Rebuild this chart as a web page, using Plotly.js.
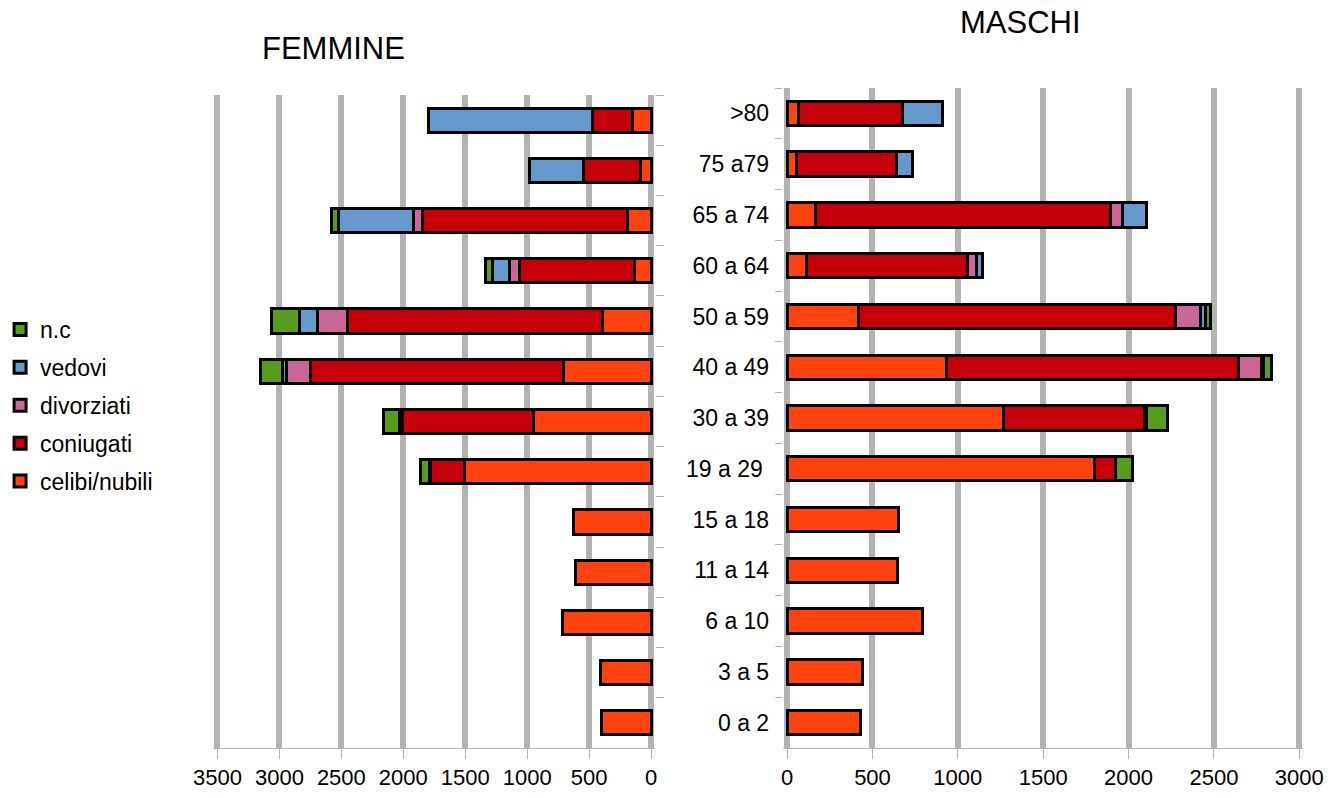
<!DOCTYPE html>
<html>
<head>
<meta charset="utf-8">
<script src="https://cdn.plot.ly/plotly-3.0.1.min.js"></script>
<style>html,body{margin:0;padding:0;background:#fff;}#chart{width:1334px;height:798px;}</style>
</head>
<body>
<div id="chart"></div>
<script>
// Categories, top to bottom
const categories = ['>80','75 a79','65 a 74','60 a 64','50 a 59','40 a 49','30 a 39','19 a 29\u00a0','15 a 18','11 a 14','6 a 10','3 a 5','0 a 2'];

// FEMMINE
const femCelibi     = [150, 90, 192, 131, 390, 704, 949, 1509, 630, 610, 717, 405, 397];
const femConiugati  = [320, 453, 1653, 933, 2061, 2048, 1061, 275, 0, 0, 0, 0, 0];
const femDivorziati = [0, 0, 72, 80, 245, 192, 15, 8, 0, 0, 0, 0, 0];
const femVedovi     = [1328, 440, 605, 133, 141, 27, 5, 0, 0, 0, 0, 0, 0];
const femNC         = [0, 0, 54, 58, 227, 181, 128, 70, 0, 0, 0, 0, 0];

// MASCHI
const masCelibi     = [64, 54, 165, 116, 419, 936, 1266, 1802, 655, 645, 791, 442, 428];
const masConiugati  = [610, 587, 1730, 940, 1855, 1709, 827, 122, 0, 0, 0, 0, 0];
const masDivorziati = [0, 0, 68, 54, 149, 132, 10, 0, 0, 0, 0, 0, 0];
const masVedovi     = [238, 95, 140, 35, 25, 14, 5, 0, 0, 0, 0, 0, 0];
const masNC         = [0, 0, 0, 0, 33, 45, 122, 101, 0, 0, 0, 0, 0];

const seriesNames = ['celibi/nubili', 'coniugati', 'divorziati', 'vedovi', 'n.c'];
const seriesColors = ['#ff420e', '#c5000b', '#cc6699', '#6699cc', '#579d1c'];
const femSeries = [femCelibi, femConiugati, femDivorziati, femVedovi, femNC];
const masSeries = [masCelibi, masConiugati, masDivorziati, masVedovi, masNC];

const FONT = 'Liberation Sans, Arial, sans-serif';
const GRID = '#b3b3b3';
const W = 1334, H = 798;

const traces = [];
seriesNames.forEach((name, i) => {
  traces.push({
    type: 'bar', orientation: 'h', name: name, legendgroup: 'g' + i,
    legendrank: seriesNames.length - i,
    y: categories, x: femSeries[i], xaxis: 'x', yaxis: 'y',
    marker: {color: seriesColors[i], line: {color: '#000', width: 3}},
    hoverinfo: 'x+name'
  });
  traces.push({
    type: 'bar', orientation: 'h', name: name, legendgroup: 'g' + i, showlegend: false,
    legendrank: seriesNames.length - i,
    y: categories, x: masSeries[i], xaxis: 'x2', yaxis: 'y2',
    marker: {color: seriesColors[i], line: {color: '#000', width: 3}},
    hoverinfo: 'x+name'
  });
});

const xCommon = {
  showgrid: true, gridcolor: GRID, gridwidth: 6, zeroline: false,
  showline: true, linecolor: GRID, linewidth: 1,
  ticks: 'outside', ticklen: 10, tickcolor: GRID, tickwidth: 1,
  tickfont: {family: FONT, size: 22, color: '#000'},
  tickmode: 'array', automargin: false, fixedrange: true
};

// small range padding so the edge gridlines (3500 / 0 / 3000) are drawn
const leftPad = 32, rightPad = 23.3;

const layout = {
  width: W, height: H,
  margin: {l: 0, r: 0, t: 0, b: 0},
  paper_bgcolor: '#fff', plot_bgcolor: '#fff',
  barmode: 'stack', bargap: 0.52,
  font: {family: FONT, color: '#000'},
  xaxis: Object.assign({}, xCommon, {
    domain: [205 / W, 650 / W], range: [3500 + leftPad, -leftPad], autorange: false,
    tickvals: [0, 500, 1000, 1500, 2000, 2500, 3000, 3500], anchor: 'y'
  }),
  yaxis: {
    domain: [50 / H, 703 / H], type: 'category', autorange: 'reversed',
    side: 'right', anchor: 'x', showgrid: false, zeroline: false,
    ticks: 'outside', tickson: 'boundaries', ticklen: 8, tickcolor: GRID,
    showticklabels: false, automargin: false, fixedrange: true
  },
  xaxis2: Object.assign({}, xCommon, {
    domain: [779 / W, 1303 / W], range: [-rightPad, 3000 + rightPad], autorange: false,
    tickvals: [0, 500, 1000, 1500, 2000, 2500, 3000], anchor: 'y2'
  }),
  yaxis2: {
    domain: [50 / H, 710 / H], type: 'category', autorange: 'reversed',
    side: 'left', anchor: 'x2', showgrid: false, zeroline: false,
    ticks: 'outside', tickson: 'boundaries', ticklen: 7, tickcolor: GRID,
    ticklabelstandoff: 13,
    tickfont: {family: FONT, size: 23, color: '#000'},
    automargin: false, fixedrange: true
  },
  legend: {
    x: -10 / W, y: (H - 308) / H, xanchor: 'left', yanchor: 'top',
    traceorder: 'grouped', tracegroupgap: 5,
    font: {family: FONT, size: 23, color: '#000'},
    bgcolor: 'rgba(0,0,0,0)'
  },
  annotations: [
    {text: 'FEMMINE', xref: 'paper', yref: 'paper', x: 326 / W, y: (H - 49) / H,
     xanchor: 'center', yanchor: 'middle', showarrow: false,
     font: {family: FONT, size: 31, color: '#000'}},
    {text: 'MASCHI', xref: 'paper', yref: 'paper', x: 1018 / W, y: (H - 22) / H,
     xanchor: 'center', yanchor: 'middle', showarrow: false,
     font: {family: FONT, size: 31, color: '#000'}}
  ],
  showlegend: true
};

Plotly.newPlot('chart', traces, layout, {displayModeBar: false, staticPlot: true});
</script>
</body>
</html>
